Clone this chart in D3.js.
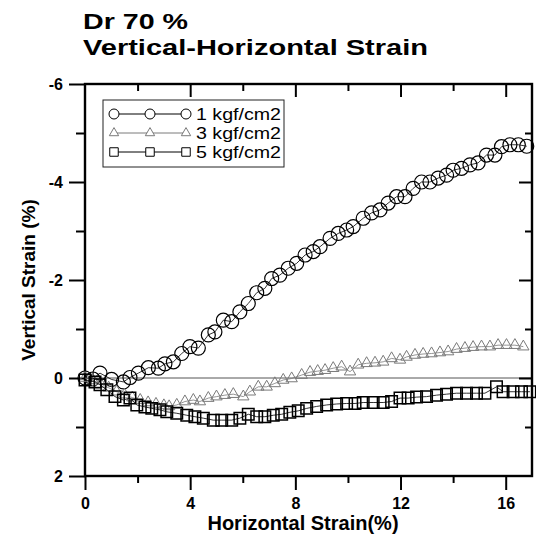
<!DOCTYPE html>
<html><head><meta charset="utf-8">
<script src="https://cdn.jsdelivr.net/npm/d3@7"></script>
<style>body{margin:0;background:#fff}svg{display:block}text{font-family:"Liberation Sans",Arial,sans-serif}</style>
</head><body><svg id="c" width="536" height="535"></svg>
<script>
const titleLines = ["Dr 70 %", "Vertical-Horizontal Strain"];
const xLabel = "Horizontal Strain(%)";
const yLabel = "Vertical Strain (%)";
const seriesNames = ["1 kgf/cm2", "3 kgf/cm2", "5 kgf/cm2"];
const xMajorTicks = [0, 4, 8, 12, 16];
const xMinorTicks = [2, 6, 10, 14];
const yMajorTicks = [-6, -4, -2, 0, 2];
const yMinorTicks = [-5, -3, -1, 1];

const s1x = [0,0.3,0.57,1.01,1.46,1.71,2.03,2.41,2.79,3.04,3.36,3.68,3.99,4.31,4.69,4.94,5.26,5.58,5.89,6.21,6.53,6.84,7.10,7.41,7.73,8.05,8.37,8.68,8.94,9.32,9.63,9.95,10.2,10.58,10.9,11.22,11.53,11.85,12.17,12.48,12.8,13.12,13.43,13.75,14.0,14.32,14.64,14.95,15.27,15.59,15.84,16.16,16.48,16.8];
const s1y = [0,0.02,-0.1,0.03,0.08,-0.01,-0.1,-0.21,-0.2,-0.29,-0.33,-0.5,-0.64,-0.61,-0.88,-0.94,-1.18,-1.15,-1.35,-1.52,-1.74,-1.83,-2.03,-2.10,-2.24,-2.34,-2.51,-2.58,-2.68,-2.85,-2.95,-3.02,-3.09,-3.26,-3.37,-3.43,-3.57,-3.70,-3.70,-3.87,-4.0,-4.0,-4.08,-4.14,-4.24,-4.28,-4.35,-4.39,-4.55,-4.55,-4.72,-4.76,-4.76,-4.73];

const s2x = [0,0.3,0.6,0.9,1.2,1.5,1.8,2.1,2.4,2.7,3.0,3.2,3.49,3.8,4.12,4.37,4.69,5.0,5.32,5.64,6.02,6.27,6.59,6.91,7.22,7.54,7.86,8.24,8.56,8.85,9.13,9.44,9.76,10.08,10.39,10.71,11.03,11.34,11.66,11.98,12.23,12.55,12.86,13.18,13.5,13.81,14.13,14.45,14.76,15.08,15.4,15.71,16.03,16.35,16.67];
const s2y = [0,0.05,0.12,0.2,0.28,0.34,0.4,0.45,0.5,0.53,0.56,0.58,0.55,0.48,0.45,0.48,0.41,0.38,0.35,0.33,0.38,0.28,0.18,0.18,0.11,0.04,0.01,-0.06,-0.12,-0.14,-0.16,-0.20,-0.23,-0.13,-0.27,-0.30,-0.31,-0.33,-0.40,-0.37,-0.43,-0.47,-0.49,-0.50,-0.52,-0.54,-0.59,-0.61,-0.63,-0.64,-0.64,-0.67,-0.67,-0.67,-0.64];

const s3x = [0,0.38,0.57,0.83,1.14,1.46,1.71,1.97,2.28,2.54,2.85,3.11,3.49,3.87,4.18,4.5,4.88,5.2,5.58,5.89,6.21,6.53,6.84,7.16,7.48,7.79,8.11,8.43,8.81,9.19,9.57,9.95,10.27,10.58,10.96,11.34,11.66,11.98,12.29,12.61,12.99,13.37,13.75,14.13,14.51,14.89,15.21,15.65,15.9,16.28,16.6,16.92];
const s3y = [0.04,0.08,0.14,0.24,0.38,0.45,0.41,0.55,0.59,0.62,0.65,0.69,0.72,0.76,0.79,0.82,0.86,0.86,0.86,0.82,0.74,0.79,0.79,0.76,0.74,0.70,0.67,0.62,0.58,0.55,0.53,0.52,0.52,0.50,0.50,0.50,0.48,0.41,0.41,0.39,0.38,0.35,0.33,0.31,0.31,0.31,0.31,0.18,0.28,0.28,0.28,0.28];

const svg = d3.select("#c");
const x = d3.scaleLinear([0, 17], [85, 532]);
const y = d3.scaleLinear([-6, 2], [84, 476]);
const X0 = x(0), X1 = x(17), Y0 = y(-6), Y1 = y(2);
const fmt = d => String(d);

// title
svg.append("text").attr("x", 83).attr("y", 29).attr("font-size", 22).attr("font-weight", "bold")
  .attr("textLength", 105).attr("lengthAdjust", "spacingAndGlyphs").text(titleLines[0]);
svg.append("text").attr("x", 83).attr("y", 55).attr("font-size", 22).attr("font-weight", "bold")
  .attr("textLength", 345).attr("lengthAdjust", "spacingAndGlyphs").text(titleLines[1]);

// zero line
svg.append("line").attr("x1", X0).attr("x2", X1).attr("y1", y(0)).attr("y2", y(0))
  .attr("stroke", "#555").attr("stroke-width", 1);

function styleAxis(g, labels) {
  g.select(".domain").remove();
  g.selectAll(".tick line").attr("stroke", "#000").attr("stroke-width", 2);
  g.selectAll(".tick text").attr("font-size", 16).attr("font-weight", "bold").attr("fill", "#000")
    .attr("font-family", '"Liberation Sans",Arial,sans-serif');
  if (!labels) g.selectAll(".tick text").remove();
}
svg.append("g").attr("transform", `translate(0,${Y1})`)
  .call(d3.axisBottom(x).tickValues(xMajorTicks).tickSize(14).tickPadding(8).tickFormat(fmt))
  .call(g => styleAxis(g, true));
svg.append("g").attr("transform", `translate(0,${Y1})`)
  .call(d3.axisBottom(x).tickValues(xMinorTicks).tickSize(7)).call(g => styleAxis(g, false));
svg.append("g").attr("transform", `translate(${X0},0)`)
  .call(d3.axisLeft(y).tickValues(yMajorTicks).tickSize(16).tickPadding(6).tickFormat(fmt))
  .call(g => styleAxis(g, true));
svg.append("g").attr("transform", `translate(${X0},0)`)
  .call(d3.axisLeft(y).tickValues(yMinorTicks).tickSize(9)).call(g => styleAxis(g, false));
svg.append("g").attr("transform", `translate(0,${Y0})`)
  .call(d3.axisTop(x).tickValues(xMajorTicks.slice(1)).tickSize(-13)).call(g => styleAxis(g, false));
svg.append("g").attr("transform", `translate(0,${Y0})`)
  .call(d3.axisTop(x).tickValues(xMinorTicks).tickSize(-7)).call(g => styleAxis(g, false));
svg.append("g").attr("transform", `translate(${X1},0)`)
  .call(d3.axisRight(y).tickValues(yMajorTicks.slice(1, -1)).tickSize(-13)).call(g => styleAxis(g, false));
svg.append("g").attr("transform", `translate(${X1},0)`)
  .call(d3.axisRight(y).tickValues(yMinorTicks).tickSize(-7)).call(g => styleAxis(g, false));

// frame
svg.append("rect").attr("x", X0).attr("y", Y0).attr("width", X1 - X0).attr("height", Y1 - Y0)
  .attr("fill", "none").attr("stroke", "#000").attr("stroke-width", 2.4);

// series
const series = [
  {xs: s1x, ys: s1y, sym: d3.symbolCircle, size: Math.PI * 7 * 7, color: "#000", sw: 1.2, lsize: Math.PI * 5 * 5},
  {xs: s2x, ys: s2y, sym: d3.symbolTriangle, size: 56, color: "#7a7a7a", sw: 1, lsize: 38},
  {xs: s3x, ys: s3y, sym: d3.symbolSquare, size: 132, color: "#000", sw: 1.5, lsize: 72}
];
const line = d3.line().x(d => x(d[0])).y(d => y(d[1]));
series.forEach(s => {
  const pts = s.xs.map((v, i) => [v, s.ys[i]]);
  svg.append("path").attr("d", line(pts)).attr("fill", "none").attr("stroke", s.color).attr("stroke-width", 0.8);
  svg.append("g").selectAll("path").data(pts).join("path")
    .attr("transform", d => `translate(${x(d[0])},${y(d[1])})`)
    .attr("d", d3.symbol(s.sym, s.size))
    .attr("fill", "none").attr("stroke", s.color).attr("stroke-width", s.sw);
});

// legend
const lg = svg.append("g");
lg.append("rect").attr("x", 103).attr("y", 100).attr("width", 181).attr("height", 67)
  .attr("fill", "#fff").attr("stroke", "#222").attr("stroke-width", 1);
const rowY = [114, 133, 152];
const symX = [114, 150, 186];
series.forEach((s, i) => {
  lg.append("line").attr("x1", symX[0]).attr("x2", symX[2]).attr("y1", rowY[i]).attr("y2", rowY[i])
    .attr("stroke", s.color).attr("stroke-width", 1);
  symX.forEach(sx => {
    lg.append("path").attr("transform", `translate(${sx},${rowY[i]})`).attr("d", d3.symbol(s.sym, s.lsize))
      .attr("fill", "#fff").attr("stroke", s.color).attr("stroke-width", 1);
  });
  lg.append("text").attr("x", 196).attr("y", rowY[i] + 6).attr("font-size", 16)
    .attr("textLength", 85).attr("lengthAdjust", "spacingAndGlyphs").text(seriesNames[i]);
});

// axis labels
svg.append("text").attr("x", 303).attr("y", 530).attr("text-anchor", "middle")
  .attr("font-size", 20).attr("font-weight", "bold").text(xLabel);
svg.append("text").attr("transform", "translate(35,280) rotate(-90)").attr("text-anchor", "middle")
  .attr("font-size", 19).attr("font-weight", "bold").text(yLabel);
</script></body></html>
